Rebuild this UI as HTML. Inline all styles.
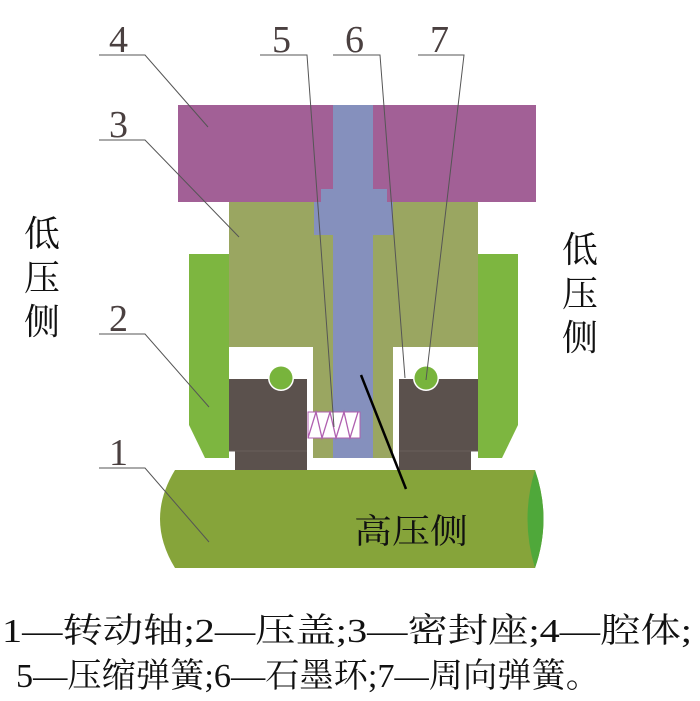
<!DOCTYPE html>
<html><head><meta charset="utf-8"><style>
html,body{margin:0;padding:0;background:#fff;}
svg{display:block;}
text{font-family:"Liberation Serif","Noto Serif CJK SC","Noto Sans CJK SC",serif;}
</style></head><body>
<svg width="700" height="701" viewBox="0 0 700 701" xmlns="http://www.w3.org/2000/svg">
<!-- shaft cylinder 1 -->
<path d="M175,470 L535,470 Q552,519 535,568 L175,568 Q145,519 175,470 Z" fill="#86a43a"/>
<path d="M535,470 Q520,519 535,568 Q552,519 535,470 Z" fill="#4fa83a"/>
<!-- housing 4 -->
<rect x="178" y="105" width="358" height="97" fill="#a26096"/>
<!-- seat 3 -->
<rect x="229" y="202" width="249" height="145" fill="#9aa661"/>
<rect x="313" y="347" width="80" height="111" fill="#9aa661"/>
<!-- blue shaft -->
<rect x="333" y="105" width="40" height="353" fill="#8590bd"/>
<rect x="321" y="189" width="66" height="13" fill="#8590bd"/>
<rect x="314" y="202" width="79" height="33" fill="#8590bd"/>
<!-- gland 2 -->
<path d="M189,254 L229,254 L229,458 L205,458 L189,425 Z" fill="#7db640"/>
<path d="M478,254 L518,254 L518,425 L502,458 L478,458 Z" fill="#7db640"/>
<!-- graphite rings 6 -->
<rect x="229" y="379" width="78" height="72" fill="#5b514d"/>
<rect x="235" y="451" width="72" height="19" fill="#5b514d"/>
<rect x="399" y="379" width="79" height="72" fill="#5b514d"/>
<rect x="399" y="451" width="72" height="19" fill="#5b514d"/>
<line x1="229" y1="451" x2="307" y2="451" stroke="#6a605c" stroke-width="1"/>
<line x1="399" y1="451" x2="478" y2="451" stroke="#6a605c" stroke-width="1"/>
<!-- circles 7 -->
<circle cx="281" cy="378" r="13" fill="#fff"/>
<circle cx="281" cy="378" r="11.5" fill="#78b43c"/>
<circle cx="426" cy="378" r="13" fill="#fff"/>
<circle cx="426" cy="378" r="11.5" fill="#78b43c"/>
<!-- spring 5 -->
<rect x="308" y="412" width="52" height="26" fill="#fff" stroke="#b060b0" stroke-width="1"/>
<polyline points="308,438 316,412 322,438 330,412 336,438 344,412 350,438 358,412" fill="none" stroke="#b060b0" stroke-width="1.3"/>
<!-- leader lines -->
<g stroke="#555" stroke-width="1" fill="none">
<polyline points="99,55 145,55 208,127"/>
<polyline points="260,55 307,55 334,427"/>
<polyline points="333,55 380,55 405,378"/>
<polyline points="418,55 464,55 426,380"/>
<polyline points="99,140 145,140 239,237"/>
<polyline points="99,334 145,334 209,407"/>
<polyline points="99,468 145,468 209,542"/>
</g>
<line x1="361" y1="375" x2="406" y2="489" stroke="#000" stroke-width="2.5"/>
<!-- numbers -->
<g font-size="38" fill="#4a4040">
<text x="109" y="52">4</text>
<text x="272" y="52">5</text>
<text x="345" y="52">6</text>
<text x="430" y="52">7</text>
<text x="109" y="137">3</text>
<text x="109" y="131" style="display:none">3</text>
<text x="109" y="331">2</text>
<text x="109" y="465">1</text>
</g>
<!-- side labels -->
<g font-size="36" fill="#111">
<text x="24" y="246">低</text>
<text x="24" y="290">压</text>
<text x="24" y="334">侧</text>
<text x="562" y="262">低</text>
<text x="562" y="306">压</text>
<text x="562" y="350">侧</text>
<text x="354" y="543" font-size="34" textLength="114" lengthAdjust="spacingAndGlyphs">高压侧</text>
</g>
<!-- caption -->
<g font-size="34" fill="#111">
<text x="2" y="642" textLength="690" lengthAdjust="spacingAndGlyphs">1—转动轴;2—压盖;3—密封座;4—腔体;</text>
<text x="16" y="687" textLength="584" lengthAdjust="spacingAndGlyphs">5—压缩弹簧;6—石墨环;7—周向弹簧。</text>
</g>
</svg>
</body></html>
